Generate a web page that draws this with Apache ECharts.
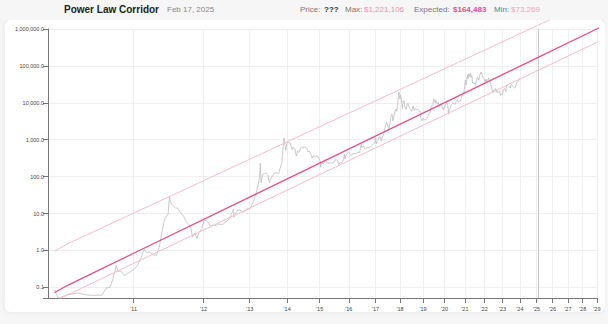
<!DOCTYPE html>
<html>
<head>
<meta charset="utf-8">
<script src="https://cdn.jsdelivr.net/npm/echarts@6/dist/echarts.min.js"></script>
<style>
html,body{margin:0;padding:0;background:#f6f6f6;}
#c{width:608px;height:324px;}
</style>
</head>
<body>
<div id="c"></div>
<script>
// ---------- text ----------
const titleText = 'Power Law Corridor';
const dateText = 'Feb 17, 2025';
const priceText = '???';
const maxText = '$1,221,106';
const expectedText = '$164,483';
const minText = '$73,269';

// ---------- axis ticks ----------
const yearLabels = ["'11","'12","'13","'14","'15","'16","'17","'18","'19","'20","'21","'22","'23","'24","'25","'26","'27","'28","'29"];
const yearDates = ['2011-01-01','2012-01-01','2013-01-01','2014-01-01','2015-01-01','2016-01-01','2017-01-01','2018-01-01','2019-01-01','2020-01-01','2021-01-01','2022-01-01','2023-01-01','2024-01-01','2025-01-01','2026-01-01','2027-01-01','2028-01-01','2029-01-01'];
const yTickValues = [0.1, 1, 10, 100, 1000, 10000, 100000, 1000000];
const axisStartDate = '2010-07-12';
const axisEndDate = '2029-01-05';
const todayDate = '2025-02-17';

// ---------- corridor lines ----------
const bandDates = ['2010-07-18','2010-08-01','2011-01-01','2013-01-01','2017-01-01','2021-01-01','2025-02-17','2029-07-12'];
const upperValues = [0.957, 1.493, 10.28, 296, 11340, 151100, 1286000, 8555000];
const middleValues = [0.0718, 0.1123, 0.840, 27.95, 1250, 18630, 173900, 1253000];
const lowerDates = ['2010-07-24','2010-08-01','2011-01-01','2013-01-01','2017-01-01','2021-01-01','2025-02-17','2029-07-12'];
const lowerValues = [0.0504, 0.0618, 0.448, 14.15, 598, 8560, 77240, 540800];

// ---------- price ----------
const priceDates = [
'2010-07-18','2010-07-22','2010-08-01','2010-08-15','2010-09-01','2010-09-15','2010-10-01','2010-10-10','2010-10-20','2010-10-28',
'2010-11-06','2010-11-12','2010-11-20','2010-12-01','2010-12-15','2011-01-01','2011-01-15','2011-02-01','2011-02-10','2011-02-20',
'2011-03-05','2011-03-20','2011-04-05','2011-04-20','2011-05-01','2011-05-15','2011-06-01','2011-06-08','2011-06-15','2011-06-25',
'2011-07-10','2011-07-25','2011-08-10','2011-08-25','2011-09-10','2011-09-25','2011-10-10','2011-10-20','2011-11-05','2011-11-18',
'2011-12-01','2011-12-20','2012-01-05','2012-01-20','2012-02-05','2012-02-20','2012-03-05','2012-03-20','2012-04-05','2012-04-20',
'2012-05-05','2012-05-20','2012-06-05','2012-06-20','2012-07-05','2012-07-20','2012-08-05','2012-08-16','2012-08-19','2012-09-05',
'2012-09-20','2012-10-05','2012-10-20','2012-11-05','2012-11-20','2012-12-05','2012-12-20','2013-01-05','2013-01-20','2013-02-05',
'2013-02-20','2013-03-05','2013-03-20','2013-04-01','2013-04-09','2013-04-16','2013-05-01','2013-05-20','2013-06-05','2013-06-20',
'2013-07-05','2013-07-20','2013-08-05','2013-08-20','2013-09-05','2013-09-20','2013-10-05','2013-10-20','2013-11-05','2013-11-18',
'2013-11-30','2013-12-04','2013-12-18','2013-12-25','2014-01-05','2014-01-20','2014-02-05','2014-02-25','2014-03-10','2014-03-25',
'2014-04-10','2014-04-25','2014-05-10','2014-05-25','2014-06-05','2014-06-20','2014-07-05','2014-07-20','2014-08-05','2014-08-18',
'2014-09-05','2014-09-20','2014-10-05','2014-10-20','2014-11-05','2014-11-20','2014-12-05','2014-12-20','2015-01-05','2015-01-14',
'2015-01-25','2015-02-10','2015-02-25','2015-03-10','2015-03-25','2015-04-10','2015-04-25','2015-05-10','2015-05-25','2015-06-10',
'2015-06-25','2015-07-10','2015-07-25','2015-08-10','2015-08-25','2015-09-10','2015-09-25','2015-10-10','2015-10-25','2015-11-04',
'2015-11-12','2015-11-25','2015-12-10','2015-12-25','2016-01-10','2016-01-25','2016-02-10','2016-02-25','2016-03-10','2016-03-25',
'2016-04-10','2016-04-25','2016-05-10','2016-05-25','2016-06-05','2016-06-16','2016-06-25','2016-07-10','2016-07-25','2016-08-05',
'2016-08-20','2016-09-05','2016-09-20','2016-10-05','2016-10-20','2016-11-05','2016-11-20','2016-12-05','2016-12-20','2017-01-04',
'2017-01-12','2017-01-25','2017-02-10','2017-02-25','2017-03-10','2017-03-25','2017-04-10','2017-04-25','2017-05-10','2017-05-25',
'2017-06-11','2017-06-25','2017-07-16','2017-07-30','2017-08-15','2017-09-01','2017-09-15','2017-10-01','2017-10-20','2017-11-01',
'2017-11-12','2017-11-25','2017-12-07','2017-12-17','2017-12-30','2018-01-07','2018-01-20','2018-02-06','2018-02-20','2018-03-05',
'2018-03-18','2018-04-06','2018-04-25','2018-05-05','2018-05-25','2018-06-10','2018-06-29','2018-07-10','2018-07-24','2018-08-14',
'2018-08-30','2018-09-15','2018-09-30','2018-10-15','2018-10-31','2018-11-15','2018-11-25','2018-12-15','2018-12-31','2019-01-15',
'2019-02-07','2019-02-25','2019-03-15','2019-04-02','2019-04-20','2019-05-05','2019-05-15','2019-06-01','2019-06-15','2019-06-26',
'2019-07-10','2019-07-25','2019-08-06','2019-08-29','2019-09-15','2019-09-26','2019-10-15','2019-10-26','2019-11-10','2019-11-25',
'2019-12-10','2019-12-17','2019-12-31','2020-01-15','2020-02-12','2020-02-28','2020-03-12','2020-03-25','2020-04-10','2020-04-29',
'2020-05-15','2020-06-01','2020-06-20','2020-07-10','2020-07-28','2020-08-15','2020-09-05','2020-09-20','2020-10-10','2020-10-25',
'2020-11-10','2020-11-25','2020-12-10','2020-12-25','2021-01-08','2021-01-27','2021-02-08','2021-02-21','2021-02-28','2021-03-13',
'2021-03-25','2021-04-14','2021-04-25','2021-05-10','2021-05-23','2021-06-10','2021-06-22','2021-07-10','2021-07-20','2021-08-05',
'2021-08-22','2021-09-07','2021-09-21','2021-10-05','2021-10-20','2021-11-01','2021-11-10','2021-11-25','2021-12-05','2021-12-20',
'2022-01-05','2022-01-24','2022-02-10','2022-02-24','2022-03-10','2022-03-29','2022-04-15','2022-04-30','2022-05-12','2022-05-25',
'2022-06-05','2022-06-18','2022-07-01','2022-07-20','2022-08-14','2022-08-30','2022-09-10','2022-09-25','2022-10-10','2022-10-25',
'2022-11-05','2022-11-21','2022-12-10','2022-12-31','2023-01-15','2023-01-25','2023-02-15','2023-03-10','2023-03-25','2023-04-14',
'2023-04-28','2023-05-15','2023-06-01','2023-06-15','2023-06-30','2023-07-13','2023-07-31','2023-08-20','2023-09-11','2023-09-28',
'2023-10-10','2023-10-24','2023-11-10','2023-11-25','2023-12-08','2023-12-20','2024-01-02','2024-01-08'
];
const priceValues = [
0.086,0.051,0.063,0.070,0.062,0.061,0.062,0.095,0.102,0.17,
0.39,0.27,0.28,0.21,0.25,0.30,0.39,0.72,1.09,0.88,
0.91,0.77,0.74,1.40,3.2,7.3,9.6,29.6,19.5,16.5,
14.3,13.9,10.0,8.9,6.1,5.2,4.1,2.3,3.0,2.1,
3.1,3.9,6.8,6.3,5.7,4.4,4.9,4.7,4.9,5.2,
5.1,5.1,5.5,6.3,6.7,8.6,10.9,13.3,8.0,10.6,
12.4,12.5,11.7,10.8,11.7,13.4,13.4,13.5,17.0,21.0,
29.5,40,64,93,230,68,116,122,121,108,
68,90,106,122,127,126,122,170,225,500,
1120,1150,520,680,930,830,800,540,630,570,
360,500,450,580,650,590,630,620,590,480,
480,410,320,380,340,360,370,320,275,180,
250,220,240,290,245,235,225,240,238,229,
243,285,290,265,210,240,235,245,285,400,
305,370,415,455,447,390,380,425,415,415,
420,460,455,450,575,760,620,650,655,575,
580,610,608,612,630,700,730,765,790,1130,
780,895,995,1170,1200,930,1200,1280,1750,2400,
2950,2500,1930,2750,4200,4900,3230,4400,6000,6750,
5900,8800,16000,19500,12600,16500,12900,6900,11200,11500,
7900,6600,9300,9700,7500,6800,5900,6400,8200,6200,
7000,6500,6600,6500,6300,5600,3900,3200,3800,3600,
3400,3800,3900,4900,5300,5800,8000,8500,8800,12900,
12300,9900,11800,9500,10300,8100,8300,9500,8800,6900,
7300,6600,7200,8800,10300,8700,4900,6700,6900,8800,
9300,10200,9300,9200,11000,11800,10200,10900,11300,13000,
15300,19000,18300,24700,40800,30400,46400,57500,45100,61200,
51700,64000,49000,56000,34800,37000,32500,33800,29800,40000,
49300,46800,40600,51500,66000,61000,67500,57200,49400,46700,
43500,36600,44000,38000,39400,47400,40500,37700,28900,29500,
29900,19000,19300,23200,24400,19800,21800,18900,19100,20100,
21300,15800,17100,16500,20900,23000,24300,20200,27500,30400,
29300,27200,27000,25100,30500,31400,29200,26100,25100,27000,
27400,34500,37300,37700,43800,43700,45000,47000
];

// ---------- time scale of the x axis ----------
const GENESIS = Date.UTC(2009, 0, 3);
function days(s) { return (Date.parse(s + 'T00:00:00Z') - GENESIS) / 86400000; }
function warp(d) { return 0.12 * Math.log(d - 515) + Math.log(d + 4000); }
function tx(s) { return warp(days(s)); }

const yearT = yearDates.map(tx);
const numFmt = new Intl.NumberFormat('en-US', {minimumFractionDigits: 1, maximumFractionDigits: 1});
const FONT = '"Liberation Sans", Arial, Helvetica, sans-serif';

const priceData = priceDates.map((s, i) => [tx(s), priceValues[i]]);
const upperData = bandDates.map((s, i) => [tx(s), upperValues[i]]);
const middleData = bandDates.map((s, i) => [tx(s), middleValues[i]]);
const lowerData = lowerDates.map((s, i) => [tx(s), lowerValues[i]]);

const chart = echarts.init(document.getElementById('c'), null, {renderer: 'svg', width: 608, height: 324});

const option = {
  animation: false,
  backgroundColor: '#f6f6f6',
  textStyle: {fontFamily: FONT},
  grid: {left: 48, right: 11, top: 29, bottom: 26, containLabel: false, outerBoundsMode: 'none'},
  xAxis: {
    type: 'value',
    min: tx(axisStartDate),
    max: tx(axisEndDate),
    axisLine: {show: true, onZero: false, lineStyle: {color: '#777', width: 1}},
    axisTick: {show: true, customValues: yearT, length: 5, lineStyle: {color: '#777', width: 1}},
    axisLabel: {
      show: true, customValues: yearT, fontSize: 5.5, color: '#444', margin: 8, fontFamily: FONT,
      formatter: function (v) {
        let best = 0;
        for (let i = 1; i < yearT.length; i++) if (Math.abs(yearT[i] - v) < Math.abs(yearT[best] - v)) best = i;
        return yearLabels[best];
      }
    },
    splitLine: {show: true, lineStyle: {color: '#efefef', width: 1}}
  },
  yAxis: {
    type: 'log',
    logBase: 10,
    min: Math.pow(10, -1.287),
    max: 1000000,
    axisLine: {show: true, onZero: false, lineStyle: {color: '#777', width: 1}},
    axisTick: {show: true, length: 5, lineStyle: {color: '#777', width: 1}},
    axisLabel: {
      show: true, fontSize: 5.5, color: '#444', margin: 4, fontFamily: FONT,
      formatter: function (v) {
        if (v < 0.09) return '';
        for (const t of yTickValues) if (Math.abs(v - t) / t < 0.01) return numFmt.format(t);
        return '';
      }
    },
    splitLine: {show: true, lineStyle: {color: '#efefef', width: 1}}
  },
  graphic: [
    {type: 'rect', z: -10, shape: {x: 5, y: 20, width: 600, height: 292, r: 6},
     style: {fill: '#ffffff', shadowBlur: 4, shadowColor: 'rgba(0,0,0,0.08)'}},
    {type: 'rect', z: 50, shape: {x: 0, y: 0, width: 608, height: 20}, style: {fill: '#f6f6f6'}},
    {type: 'rect', z: 50, shape: {x: 605, y: 0, width: 3, height: 324}, style: {fill: '#f6f6f6'}},
    {type: 'text', z: 60, x: 64, y: 9, style: {text: titleText, font: 'bold 10px ' + FONT, fill: '#222', verticalAlign: 'middle'}},
    {type: 'text', z: 60, x: 167, y: 9, style: {text: dateText, font: '8px ' + FONT, fill: '#888', verticalAlign: 'middle'}},
    {type: 'text', z: 60, x: 300, y: 9, style: {text: 'Price:', font: '8px ' + FONT, fill: '#777', verticalAlign: 'middle'}},
    {type: 'text', z: 60, x: 324, y: 9, style: {text: priceText, font: 'bold 8px ' + FONT, fill: '#333', verticalAlign: 'middle'}},
    {type: 'text', z: 60, x: 345, y: 9, style: {text: 'Max:', font: '8px ' + FONT, fill: '#777', verticalAlign: 'middle'}},
    {type: 'text', z: 60, x: 364, y: 9, style: {text: maxText, font: '8px ' + FONT, fill: '#f28db0', verticalAlign: 'middle'}},
    {type: 'text', z: 60, x: 414, y: 9, style: {text: 'Expected:', font: '8px ' + FONT, fill: '#777', verticalAlign: 'middle'}},
    {type: 'text', z: 60, x: 453, y: 9, style: {text: expectedText, font: 'bold 8px ' + FONT, fill: '#e4508a', verticalAlign: 'middle'}},
    {type: 'text', z: 60, x: 494, y: 9, style: {text: 'Min:', font: '8px ' + FONT, fill: '#777', verticalAlign: 'middle'}},
    {type: 'text', z: 60, x: 511, y: 9, style: {text: minText, font: '8px ' + FONT, fill: '#f4a3c0', verticalAlign: 'middle'}}
  ],
  series: [
    {
      name: 'Price', type: 'line', data: priceData, showSymbol: false, clip: false, z: 3,
      lineStyle: {color: '#bdbdbd', width: 0.8}, emphasis: {disabled: true},
      markLine: {
        silent: true, symbol: ['none', 'none'], animation: false,
        label: {show: false},
        lineStyle: {color: '#c6c6c6', width: 1, type: 'solid'},
        data: [{xAxis: tx(todayDate)}]
      }
    },
    {name: 'Max', type: 'line', data: upperData, showSymbol: false, clip: false, z: 4,
     lineStyle: {color: '#f7bccd', width: 1}, emphasis: {disabled: true}},
    {name: 'Expected', type: 'line', data: middleData, showSymbol: false, clip: false, z: 5,
     lineStyle: {color: '#e4508a', width: 1.3}, emphasis: {disabled: true}},
    {name: 'Min', type: 'line', data: lowerData, showSymbol: false, clip: false, z: 4,
     lineStyle: {color: '#f7bccd', width: 1}, emphasis: {disabled: true}}
  ]
};
chart.setOption(option);
</script>
</body>
</html>
